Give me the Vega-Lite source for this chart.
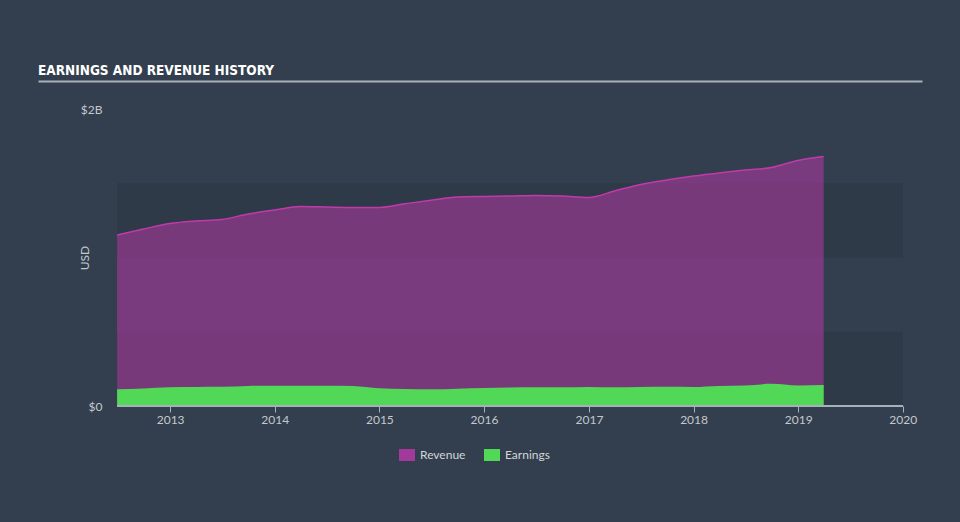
{
  "$schema": "https://vega.github.io/schema/vega-lite/v6.json",
  "width": 884,
  "height": 297,
  "padding": {"left": 38, "right": 38, "top": 63, "bottom": 66},
  "background": "#333f4e",
  "title": {"text": "EARNINGS AND REVENUE HISTORY", "anchor": "start", "frame": "bounds", "font": "DejaVu Sans Condensed", "fontSize": 13.5, "fontWeight": "bold", "color": "#ffffff", "baseline": "alphabetic", "offset": -7},
  "config": {"view": {"stroke": null}, "font": "Lato", "axis": {"labelFont": "Lato", "titleFont": "Lato", "labelColor": "#c3c8ce", "titleColor": "#c3c8ce", "labelFontSize": 12, "titleFontSize": 12, "titleFontWeight": "normal", "grid": false}},
  "data": {"values": [
    {"date": "2012-06-30", "Revenue": 1152000000, "Earnings": 112000000},
    {"date": "2012-09-30", "Revenue": 1192000000, "Earnings": 118000000},
    {"date": "2012-12-31", "Revenue": 1229000000, "Earnings": 126000000},
    {"date": "2013-03-31", "Revenue": 1246000000, "Earnings": 128000000},
    {"date": "2013-06-30", "Revenue": 1256000000, "Earnings": 129000000},
    {"date": "2013-09-30", "Revenue": 1293000000, "Earnings": 135000000},
    {"date": "2013-12-31", "Revenue": 1320000000, "Earnings": 137000000},
    {"date": "2014-03-31", "Revenue": 1343000000, "Earnings": 137000000},
    {"date": "2014-06-30", "Revenue": 1340000000, "Earnings": 137000000},
    {"date": "2014-09-30", "Revenue": 1337000000, "Earnings": 135000000},
    {"date": "2014-12-31", "Revenue": 1337000000, "Earnings": 119000000},
    {"date": "2015-03-31", "Revenue": 1362000000, "Earnings": 114000000},
    {"date": "2015-06-30", "Revenue": 1386000000, "Earnings": 112000000},
    {"date": "2015-09-30", "Revenue": 1407000000, "Earnings": 116000000},
    {"date": "2015-12-31", "Revenue": 1411000000, "Earnings": 121000000},
    {"date": "2016-03-31", "Revenue": 1414000000, "Earnings": 125000000},
    {"date": "2016-06-30", "Revenue": 1418000000, "Earnings": 126000000},
    {"date": "2016-09-30", "Revenue": 1414000000, "Earnings": 126000000},
    {"date": "2016-12-31", "Revenue": 1404000000, "Earnings": 128000000},
    {"date": "2017-03-31", "Revenue": 1448000000, "Earnings": 126000000},
    {"date": "2017-06-30", "Revenue": 1492000000, "Earnings": 128000000},
    {"date": "2017-09-30", "Revenue": 1522000000, "Earnings": 129000000},
    {"date": "2017-12-31", "Revenue": 1549000000, "Earnings": 128000000},
    {"date": "2018-03-31", "Revenue": 1569000000, "Earnings": 135000000},
    {"date": "2018-06-30", "Revenue": 1589000000, "Earnings": 138000000},
    {"date": "2018-09-30", "Revenue": 1606000000, "Earnings": 149000000},
    {"date": "2018-12-31", "Revenue": 1653000000, "Earnings": 138000000},
    {"date": "2019-03-31", "Revenue": 1680000000, "Earnings": 141000000}
  ]},
  "resolve": {"axis": {"x": "independent", "y": "independent"}},
  "layer": [
    {
      "data": {"values": [{"lo": 0, "hi": 500000000}, {"lo": 1000000000, "hi": 1500000000}]},
      "mark": {"type": "rect", "color": "#2e3a47"},
      "encoding": {
        "x": {"datum": {"year": 2012, "month": 6, "date": 30, "utc": true}, "type": "temporal",
              "scale": {"type": "utc", "domain": [{"year": 2011, "month": 9, "date": 28, "utc": true}, {"year": 2020, "month": 3, "date": 8, "utc": true}]},
              "axis": {"orient": "top", "offset": 28, "domainColor": "#a9b0b8", "domainWidth": 2, "ticks": false, "labels": false, "title": null}},
        "x2": {"datum": {"year": 2020, "month": 1, "date": 1, "utc": true}},
        "y": {"field": "lo", "type": "quantitative", "scale": {"domain": [0, 2000000000], "nice": false},
              "axis": {"values": [0, 2000000000], "labelExpr": "datum.value == 0 ? '$0' : '$2B'", "offset": -79, "domain": false, "ticks": false, "tickSize": 0, "labelPadding": 15, "title": "USD", "titleX": -26}},
        "y2": {"field": "hi"}
      }
    },
    {
      "mark": {"type": "area", "interpolate": "monotone", "fillOpacity": 0.64},
      "encoding": {
        "x": {"field": "date", "type": "temporal",
              "scale": {"type": "utc", "domain": [{"year": 2011, "month": 9, "date": 28, "utc": true}, {"year": 2020, "month": 3, "date": 8, "utc": true}]},
              "axis": {"orient": "bottom", "domain": false, "values": [
                {"year": 2013, "month": 1, "date": 1, "utc": true}, {"year": 2014, "month": 1, "date": 1, "utc": true},
                {"year": 2015, "month": 1, "date": 1, "utc": true}, {"year": 2016, "month": 1, "date": 1, "utc": true},
                {"year": 2017, "month": 1, "date": 1, "utc": true}, {"year": 2018, "month": 1, "date": 1, "utc": true},
                {"year": 2019, "month": 1, "date": 1, "utc": true}, {"year": 2020, "month": 1, "date": 1, "utc": true}],
                "format": "%Y", "formatType": "utc", "tickColor": "#a9b0b8", "tickSize": 6, "labelPadding": 2, "title": null, "labelFlush": false}},
        "y": {"field": "Revenue", "type": "quantitative", "scale": {"domain": [0, 2000000000], "nice": false}, "axis": null},
        "color": {"datum": "Revenue", "scale": {"domain": ["Revenue", "Earnings"], "range": ["#a3399a", "#52d857"]},
                  "legend": {"orient": "none", "legendX": 363, "legendY": 340, "direction": "horizontal", "title": null, "symbolType": "M-1.33,-1H1.33V1H-1.33Z", "symbolSize": 144, "symbolOpacity": 1, "symbolStrokeWidth": 0, "labelColor": "#d2d6da", "labelFontSize": 12, "labelFont": "Lato", "labelOffset": 7, "columnPadding": 18, "padding": 0}}
      }
    },
    {
      "mark": {"type": "line", "interpolate": "monotone", "color": "#c03aaa", "strokeWidth": 1.5},
      "encoding": {
        "x": {"field": "date", "type": "temporal", "scale": {"type": "utc", "domain": [{"year": 2011, "month": 9, "date": 28, "utc": true}, {"year": 2020, "month": 3, "date": 8, "utc": true}]}, "axis": null},
        "y": {"field": "Revenue", "type": "quantitative", "scale": {"domain": [0, 2000000000], "nice": false}, "axis": null}
      }
    },
    {
      "mark": {"type": "area", "interpolate": "monotone", "fillOpacity": 1},
      "encoding": {
        "x": {"field": "date", "type": "temporal", "scale": {"type": "utc", "domain": [{"year": 2011, "month": 9, "date": 28, "utc": true}, {"year": 2020, "month": 3, "date": 8, "utc": true}]}, "axis": null},
        "y": {"field": "Earnings", "type": "quantitative", "scale": {"domain": [0, 2000000000], "nice": false}, "axis": null},
        "color": {"datum": "Earnings"}
      }
    },
    {
      "mark": {"type": "rule", "color": "#a9b0b8", "strokeWidth": 1.5},
      "encoding": {
        "x": {"datum": {"year": 2012, "month": 6, "date": 30, "utc": true}, "type": "temporal", "scale": {"type": "utc", "domain": [{"year": 2011, "month": 9, "date": 28, "utc": true}, {"year": 2020, "month": 3, "date": 8, "utc": true}]}, "axis": null},
        "x2": {"datum": {"year": 2020, "month": 1, "date": 1, "utc": true}},
        "y": {"datum": 0, "type": "quantitative", "scale": {"domain": [0, 2000000000], "nice": false}, "axis": null}
      }
    }
  ]
}
